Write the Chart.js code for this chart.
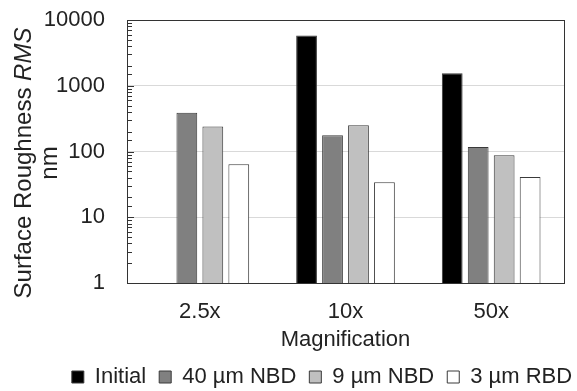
<!DOCTYPE html>
<html lang="en">
<head>
    <meta charset="UTF-8">
    <title>Surface Roughness</title>
    <script src="https://cdn.jsdelivr.net/npm/chart.js"></script>
    <style>
        html, body { margin: 0; padding: 0; background: #fff; }
        #wrap { width: 577px; height: 391px; }
    </style>
</head>
<body>
    <div id="wrap"><canvas id="roughChart"></canvas></div>

    <script>
        // Datos
        const categories = ['2.5x', '10x', '50x'];
        const initialVals = [null, 5800, 1550];
        const nbd40Vals = [389, 176, 117];
        const nbd9Vals = [240, 250, 88];
        const rbd3Vals = [64, 34, 41];
        const seriesNames = ['Initial', '40 µm NBD', '9 µm NBD', '3 µm RBD'];

        const FONT = 'Liberation Sans, Arial, sans-serif';
        const TEXT = '#222';

        function isDecade(v) {
            const l = Math.log10(v);
            return Math.abs(l - Math.round(l)) < 1e-9;
        }

        // y title with italic RMS, plus inward ticks and plot frame
        const extras = {
            id: 'extras',
            afterLayout(chart) {
                // nudge the legend to where it sits in the reference
                const lg = chart.legend;
                lg.left += 40; lg.right += 40;
                lg.top += 7; lg.bottom += 7;
            },
            afterDraw(chart) {
                const ctx = chart.ctx;
                const area = chart.chartArea;
                const y = chart.scales.y;

                ctx.save();
                ctx.strokeStyle = '#333';
                ctx.lineWidth = 1;
                y.ticks.forEach(t => {
                    const py = Math.round(y.getPixelForValue(t.value)) + 0.5;
                    const len = isDecade(t.value) ? 7 : 5;
                    ctx.beginPath();
                    ctx.moveTo(area.left, py);
                    ctx.lineTo(area.left + len, py);
                    ctx.stroke();
                });
                ctx.strokeRect(Math.round(area.left) + 0.5, Math.round(area.top) + 0.5,
                    Math.round(area.right - area.left), Math.round(area.bottom - area.top));

                // y axis title
                ctx.translate(0, 163);
                ctx.rotate(-Math.PI / 2);
                ctx.fillStyle = TEXT;
                ctx.textBaseline = 'alphabetic';
                const normal = '24px ' + FONT;
                const italic = 'italic 24px ' + FONT;
                const part1 = 'Surface Roughness ';
                const part2 = 'RMS';
                ctx.font = normal;
                const w1 = ctx.measureText(part1).width;
                ctx.font = italic;
                const w2 = ctx.measureText(part2).width;
                const x0 = -(w1 + w2) / 2;
                ctx.textAlign = 'left';
                ctx.font = normal;
                ctx.fillText(part1, x0, 31);
                ctx.font = italic;
                ctx.fillText(part2, x0 + w1, 31);
                ctx.font = normal;
                ctx.textAlign = 'center';
                ctx.fillText('nm', 0, 57);
                ctx.restore();
            }
        };

        const barStyle = { borderColor: '#3a3a3a', borderWidth: 1 };

        window.onload = function () {
            const ctx = document.getElementById('roughChart').getContext('2d');
            new Chart(ctx, {
                type: 'bar',
                data: {
                    labels: categories,
                    datasets: [
                        Object.assign({ label: seriesNames[0], data: initialVals, backgroundColor: '#000000' }, barStyle),
                        Object.assign({ label: seriesNames[1], data: nbd40Vals, backgroundColor: '#808080' }, barStyle),
                        Object.assign({ label: seriesNames[2], data: nbd9Vals, backgroundColor: '#c0c0c0' }, barStyle),
                        Object.assign({ label: seriesNames[3], data: rbd3Vals, backgroundColor: '#ffffff' }, barStyle)
                    ]
                },
                options: {
                    responsive: true,
                    maintainAspectRatio: false,
                    animation: false,
                    categoryPercentage: 0.713,
                    barPercentage: 0.8,
                    layout: { padding: { top: 20, right: 13, left: 0, bottom: 0 } },
                    plugins: {
                        tooltip: { enabled: false },
                        legend: {
                            position: 'bottom',
                            labels: {
                                color: TEXT,
                                font: { family: FONT, size: 22 },
                                boxWidth: 12,
                                boxHeight: 12,
                                padding: 13
                            }
                        }
                    },
                    scales: {
                        x: {
                            grid: { display: false, drawTicks: false },
                            border: { display: false },
                            ticks: { color: TEXT, font: { family: FONT, size: 22 }, padding: 16 },
                            title: {
                                display: true,
                                text: 'Magnification',
                                color: TEXT,
                                font: { family: FONT, size: 22 },
                                padding: { top: 0, bottom: -7 }
                            },
                            afterFit: s => { s.height = 63; }
                        },
                        y: {
                            type: 'logarithmic',
                            min: 1,
                            max: 10000,
                            border: { display: false },
                            grid: {
                                drawTicks: false,
                                color: c => (c.tick && isDecade(c.tick.value)) ? '#d9d9d9' : 'rgba(0,0,0,0)'
                            },
                            ticks: {
                                autoSkip: false,
                                color: TEXT,
                                font: { family: FONT, size: 22 },
                                padding: 22,
                                callback: v => isDecade(v) ? String(v) : ''
                            },
                            afterFit: s => {
                                s.width = 127;
                                s.paddingTop = 0;
                                s.paddingBottom = 0;
                            }
                        }
                    }
                },
                plugins: [extras]
            });
        };
    </script>
</body>
</html>
